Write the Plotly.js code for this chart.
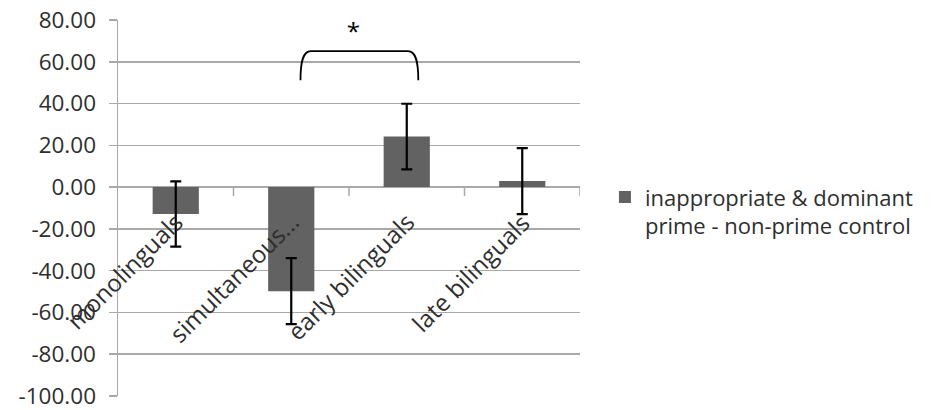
<!DOCTYPE html>
<html>
<head>
<meta charset="utf-8">
<script src="https://cdn.plot.ly/plotly-3.0.1.min.js"></script>
<style>html,body{margin:0;padding:0;background:#fff;}</style>
</head>
<body>
<div id="chart" style="width:931px;height:410px;"></div>
<script>
var categories = ["monolinguals", "simultaneous...", "early bilinguals", "late bilinguals"];
var values = [-12.9, -49.8, 24.2, 2.9];
var errors = [15.6, 15.8, 15.7, 15.8];
var seriesName = "inappropriate & dominant<br>prime - non-prime control";
var yTicks = [80, 60, 40, 20, 0, -20, -40, -60, -80, -100];
var yTickText = yTicks.map(function (v) { return v.toFixed(2); });

var FONT = "Open Sans";
var TXT = "#2e2e2e";

var trace = {
  type: "bar",
  x: categories,
  y: values,
  name: seriesName,
  marker: {color: "#626262"},
  width: 0.4,
  error_y: {type: "data", array: errors, visible: true, color: "#000", thickness: 2.2, width: 5.5},
  showlegend: true
};

var annotations = categories.map(function (c, i) {
  return {
    x: i, y: 0, xref: "x", yref: "y",
    text: c, showarrow: false, textangle: -45,
    xanchor: "right", yanchor: "top",
    xshift: 17, yshift: -16,
    font: {family: FONT, size: 24, color: TXT}
  };
});
annotations.push({
  x: 1.535, y: 75, xref: "x", yref: "y", text: "\u00a0\u00a0\u00a0*\u00a0\u00a0\u00a0", showarrow: false,
  font: {family: FONT, size: 24, color: "#000"},
  bgcolor: "#fff", borderpad: 0
});

var layout = {
  width: 931, height: 410,
  margin: {l: 118, r: 349, t: 20, b: 14},
  paper_bgcolor: "#fff", plot_bgcolor: "#fff",
  font: {family: FONT, size: 22, color: TXT},
  xaxis: {type: "category", range: [-0.5, 3.5], showticklabels: false, showgrid: false,
          zeroline: false, showline: false, fixedrange: true},
  yaxis: {range: [-100, 80], tickvals: yTicks, ticktext: yTickText, showgrid: true,
          gridcolor: "#a9a9a9", gridwidth: 1.5, zeroline: true, zerolinecolor: "#a9a9a9",
          zerolinewidth: 1.5, showline: true, linecolor: "#a9a9a9", linewidth: 1.5,
          ticks: "outside", ticklen: 8, tickcolor: "#a9a9a9", tickwidth: 1.5,
          ticklabelstandoff: 8, ticklabeloverflow: "allow", automargin: false,
          tickfont: {family: FONT, size: 22.5, color: TXT}, fixedrange: true},
  showlegend: true,
  legend: {x: 1.054, xref: "paper", xanchor: "left", y: 0.49, yanchor: "middle", valign: "top",
           font: {family: FONT, size: 22, color: TXT}, bgcolor: "rgba(0,0,0,0)"},
  shapes: [
    {type: "path", xref: "x", yref: "y",
     path: "M 1.08,51.2 C 1.08,60 1.1,65.1 1.17,65.1 L 2.01,65.1 C 2.08,65.1 2.10,60 2.10,51.2",
     line: {color: "#000", width: 1.8}}
  ].concat([0.5, 1.5, 2.5, 3.5].map(function (b) {
    return {type: "line", xref: "x", yref: "y", x0: b, x1: b, y0: 0, y1: -4.3,
            line: {color: "#a9a9a9", width: 1.5}};
  })),
  annotations: annotations
};

Plotly.newPlot("chart", [trace], layout, {staticPlot: true, displayModeBar: false});
</script>
</body>
</html>
